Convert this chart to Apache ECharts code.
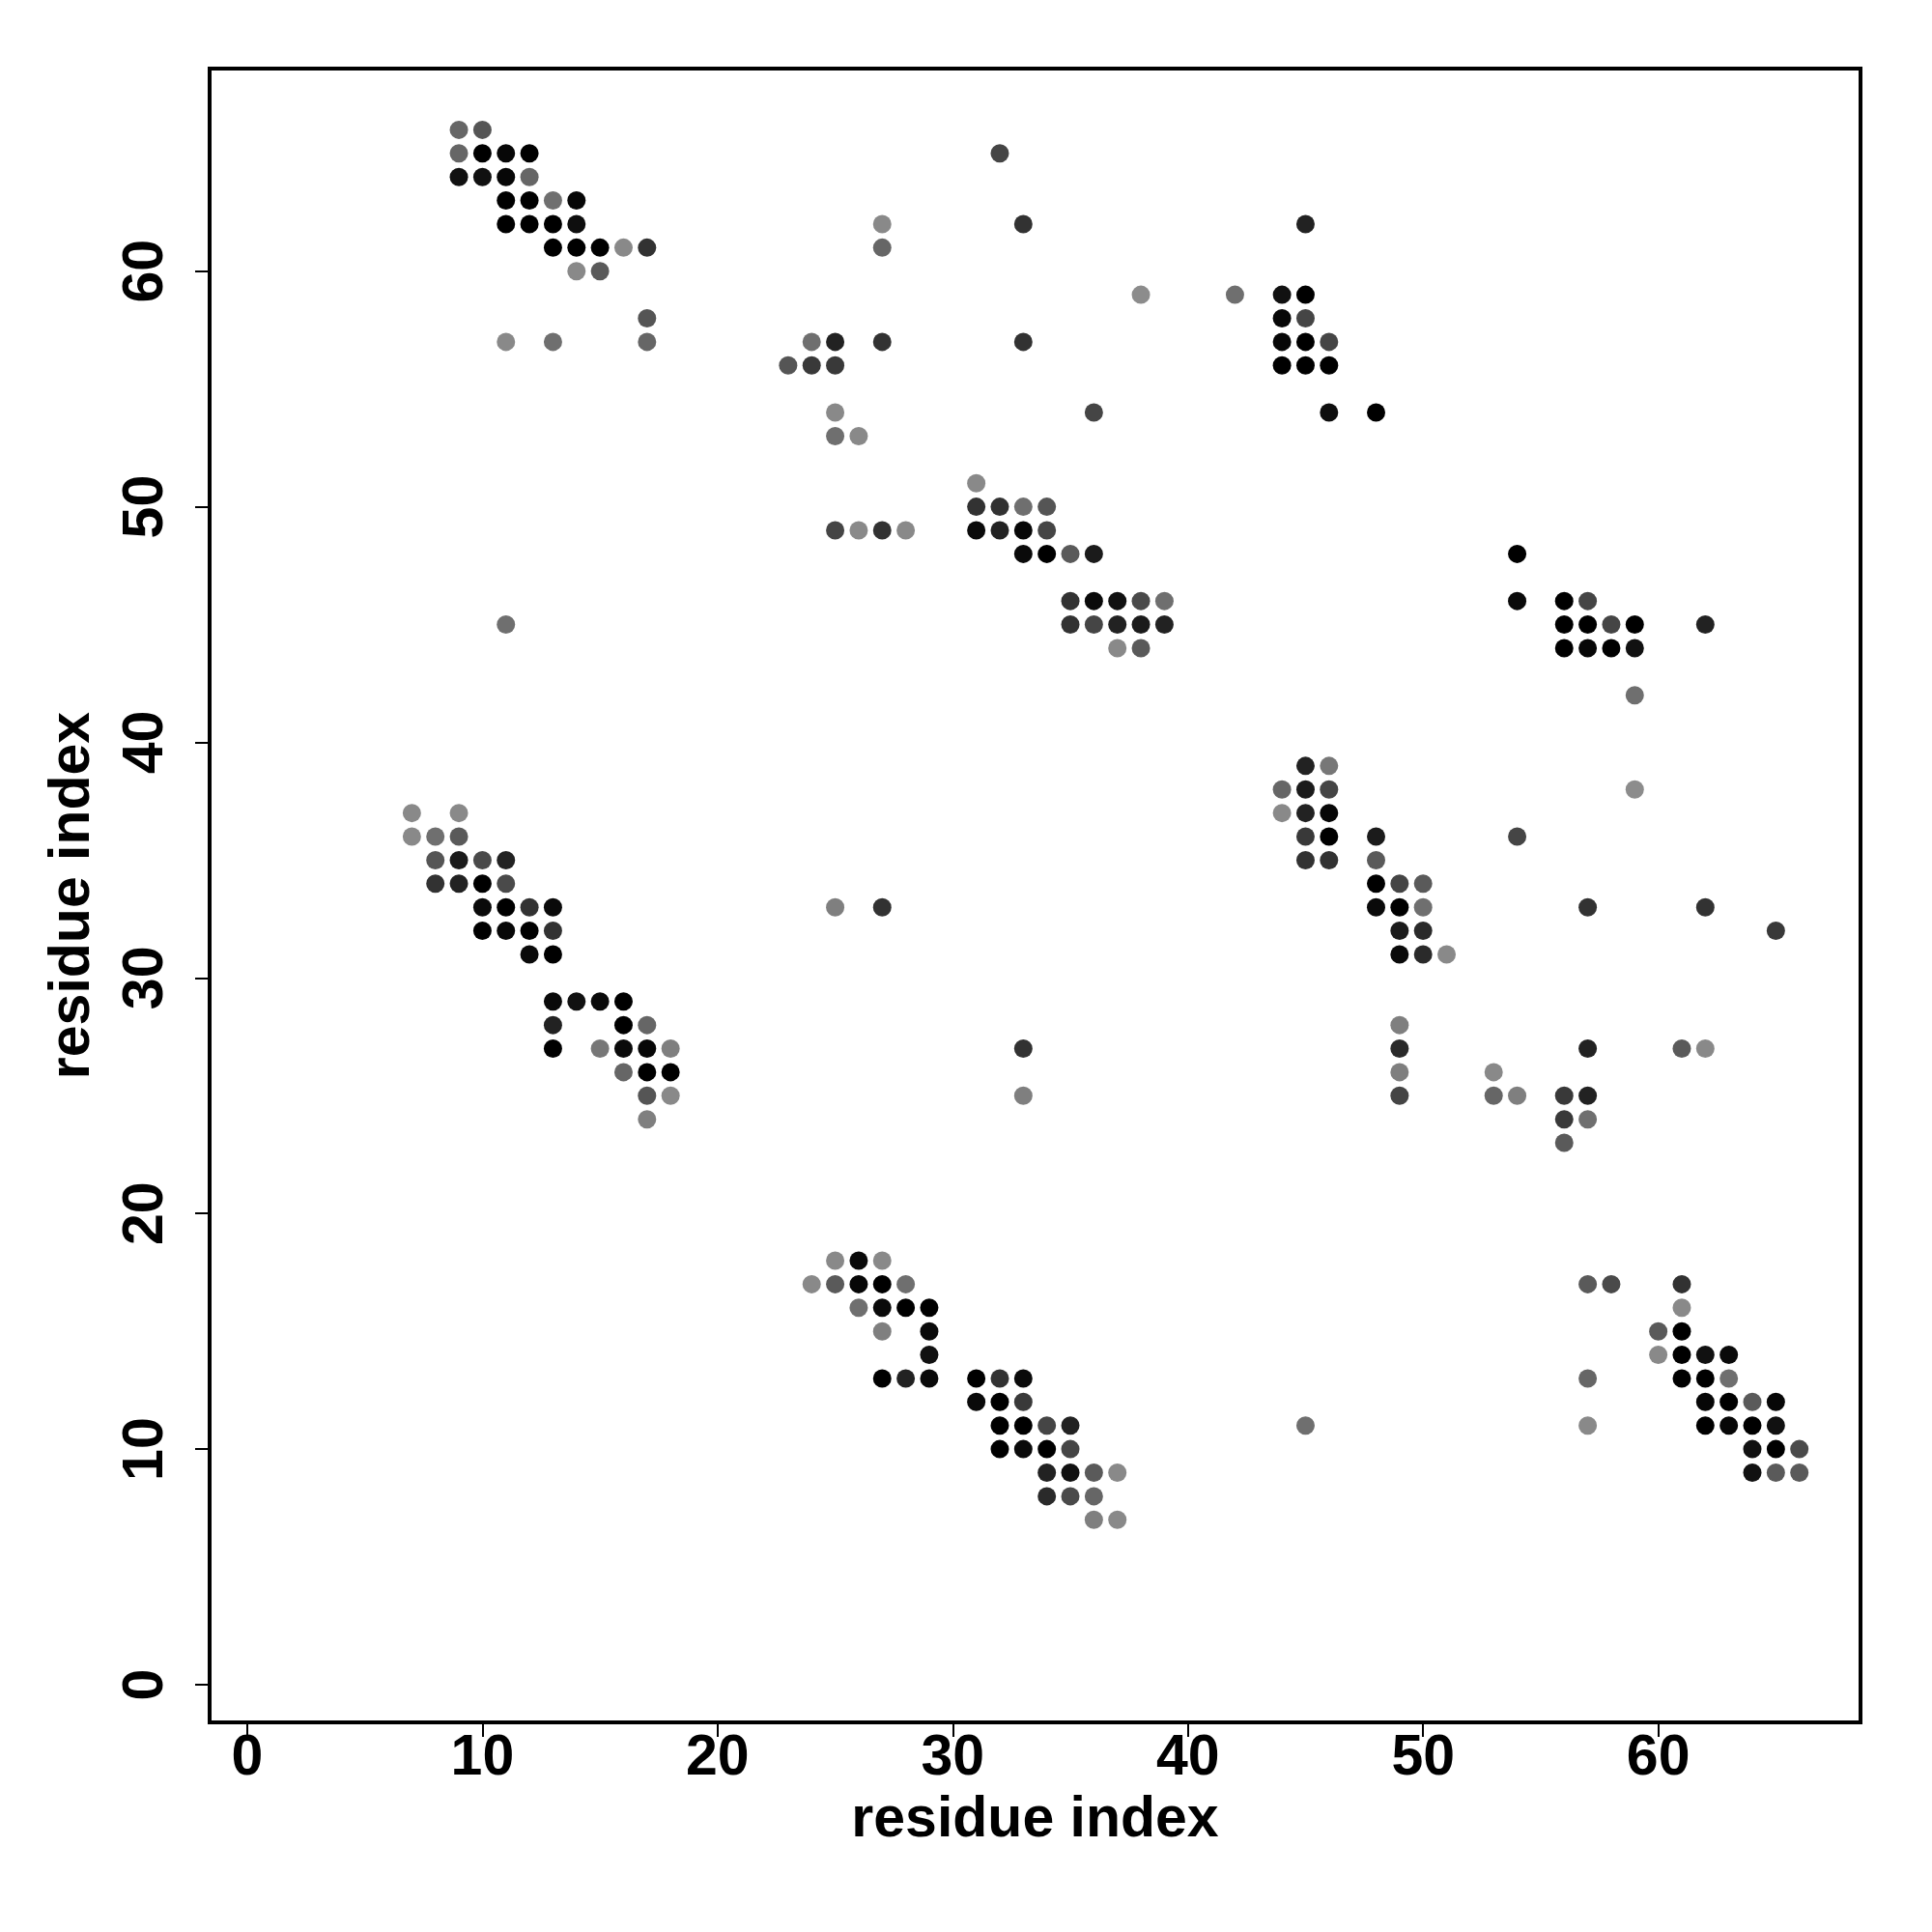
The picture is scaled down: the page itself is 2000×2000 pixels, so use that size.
<!DOCTYPE html>
<html>
<head>
<meta charset="utf-8">
<script src="https://cdn.jsdelivr.net/npm/echarts@6/dist/echarts.min.js"></script>
<style>
html,body{margin:0;padding:0;background:#fff;}
#chart{width:2000px;height:2000px;}
</style>
</head>
<body>
<div id="chart"></div>
<script>
// Contacts: [residue i, residue j, contact strength (0 = weakest/lightest, 1 = strongest/black)]
const blockTopLeft = [
  [9,66,0.27],[10,66,0.39],
  [9,65,0.27],[10,65,1],[11,65,0.95],[12,65,1],
  [9,64,0.88],[10,64,0.88],[11,64,0.95],[12,64,0.27],
  [11,63,1],[12,63,1],[13,63,0.21],[14,63,0.95],
  [11,62,1],[12,62,1],[13,62,1],[14,62,0.9],
  [13,61,1],[14,61,1],[15,61,1],[16,61,0.02],[17,61,0.64],
  [14,60,0.02],[15,60,0.36],
  [17,58,0.39],
  [11,57,0.02],[13,57,0.21],[17,57,0.27]
];
const blockTopMid = [
  [27,62,0.02],[27,61,0.27],
  [24,57,0.21],[25,57,0.76],[27,57,0.64],
  [23,56,0.39],[24,56,0.59],[25,56,0.59],
  [25,54,0.02],
  [25,53,0.21],[26,53,0.02],
  [25,49,0.51],[26,49,0.02],[27,49,0.64],[28,49,0.02],
  [32,65,0.51],[33,62,0.64],[33,57,0.64],[36,54,0.51],[38,59,0.0]
];
const blockTopRight = [
  [45,62,0.76],
  [42,59,0.21],[44,59,0.88],[45,59,1],
  [44,58,0.95],[45,58,0.51],
  [44,57,0.95],[45,57,1],[46,57,0.51],
  [44,56,1],[45,56,1],[46,56,1],
  [46,54,0.9],[48,54,1]
];
const blockCentre = [
  [31,51,0.02],
  [31,50,0.64],[32,50,0.64],[33,50,0.21],[34,50,0.39],
  [31,49,0.93],[32,49,0.76],[33,49,0.95],[34,49,0.51],
  [33,48,0.93],[34,48,1],[35,48,0.36],[36,48,0.81],
  [35,46,0.64],[36,46,0.93],[37,46,0.88],[38,46,0.47],[39,46,0.21],
  [35,45,0.64],[36,45,0.51],[37,45,0.76],[38,45,0.81],[39,45,0.76],
  [37,44,0.02],[38,44,0.36],
  [11,45,0.21]
];
const blockRightUpper = [
  [54,48,1],
  [54,46,0.93],[56,46,1],[57,46,0.51],
  [56,45,1],[57,45,1],[58,45,0.51],[59,45,1],[62,45,0.76],
  [56,44,1],[57,44,0.95],[58,44,1],[59,44,0.88],
  [59,42,0.21],[59,38,0.0],[54,36,0.51],
  [57,33,0.64],[62,33,0.64],[65,32,0.59]
];
const blockLeftMid = [
  [7,37,0.02],[9,37,0.02],
  [7,36,0.02],[8,36,0.21],[9,36,0.36],
  [8,35,0.39],[9,35,0.81],[10,35,0.47],[11,35,0.76],
  [8,34,0.64],[9,34,0.76],[10,34,1],[11,34,0.47],
  [10,33,0.93],[11,33,1],[12,33,0.64],[13,33,0.93],
  [10,32,1],[11,32,0.95],[12,32,1],[13,32,0.64],
  [12,31,0.93],[13,31,1],
  [13,29,0.93],[14,29,0.88],[15,29,0.93],[16,29,1],
  [13,28,0.76],[16,28,1],[17,28,0.27],
  [13,27,1],[15,27,0.15],[16,27,0.93],[17,27,0.95],[18,27,0.09],
  [16,26,0.27],[17,26,1],[18,26,1],
  [17,25,0.39],[18,25,0.02],
  [17,24,0.09],
  [25,33,0.09],[27,33,0.64],[33,27,0.64],[33,25,0.09]
];
const blockRightMid = [
  [45,39,0.76],[46,39,0.15],
  [44,38,0.27],[45,38,0.81],[46,38,0.51],
  [44,37,0.02],[45,37,0.76],[46,37,0.95],
  [45,36,0.59],[46,36,1],[48,36,0.81],
  [45,35,0.64],[46,35,0.64],[48,35,0.36],
  [48,34,1],[49,34,0.51],[50,34,0.36],
  [48,33,0.93],[49,33,1],[50,33,0.21],
  [49,32,0.81],[50,32,0.7],
  [49,31,0.93],[50,31,0.7],[51,31,0.02],
  [49,28,0.09],
  [49,27,0.7],[57,27,0.76],[61,27,0.36],[62,27,0.02],
  [49,26,0.09],[53,26,0.02],
  [49,25,0.51],[53,25,0.27],[54,25,0.09],[56,25,0.59],[57,25,0.76],
  [56,24,0.59],[57,24,0.21],
  [56,23,0.36]
];
const blockBottomMid = [
  [25,18,0.02],[26,18,0.93],[27,18,0.02],
  [24,17,0.02],[25,17,0.36],[26,17,0.95],[27,17,1],[28,17,0.21],
  [26,16,0.21],[27,16,0.93],[28,16,1],[29,16,1],
  [27,15,0.09],[29,15,0.93],
  [29,14,0.88],
  [27,13,1],[28,13,0.76],[29,13,0.93],[31,13,1],[32,13,0.64],[33,13,0.93],
  [31,12,0.93],[32,12,1],[33,12,0.59],
  [32,11,1],[33,11,1],[34,11,0.51],[35,11,0.76],
  [32,10,1],[33,10,0.93],[34,10,1],[35,10,0.51],
  [34,9,0.76],[35,9,0.88],[36,9,0.36],[37,9,0.02],
  [34,8,0.7],[35,8,0.47],[36,8,0.27],
  [36,7,0.09],[37,7,0.02],
  [45,11,0.21]
];
const blockBottomRight = [
  [57,17,0.36],[58,17,0.47],[61,17,0.64],
  [61,16,0.02],
  [60,15,0.36],[61,15,1],
  [60,14,0.02],[61,14,1],[62,14,0.88],[63,14,0.93],
  [57,13,0.27],[61,13,1],[62,13,1],[63,13,0.21],
  [62,12,0.95],[63,12,1],[64,12,0.36],[65,12,0.95],
  [57,11,0.02],[62,11,1],[63,11,0.95],[64,11,1],[65,11,0.88],
  [64,10,0.88],[65,10,1],[66,10,0.47],
  [64,9,0.88],[65,9,0.36],[66,9,0.36]
];
const tickValues = [0,10,20,30,40,50,60];
const axisTitle = 'residue index';

const contacts = [].concat(blockTopLeft, blockTopMid, blockTopRight, blockCentre,
  blockRightUpper, blockLeftMid, blockRightMid, blockBottomMid, blockBottomRight);

const FONT = '"Liberation Sans", Arial, Helvetica, sans-serif';
const chart = echarts.init(document.getElementById('chart'), null, {renderer: 'canvas'});

function axisCommon(isY) {
  return {
    type: 'value',
    min: -1.6,
    max: 68.6,
    name: axisTitle,
    nameLocation: 'middle',
    nameGap: isY ? 112 : 72,
    nameRotate: isY ? 90 : 0,
    nameTextStyle: {fontFamily: FONT, fontWeight: 'bold', fontSize: 59, color: '#000'},
    splitLine: {show: false},
    axisLine: {show: false, onZero: false},
    axisTick: {show: true, inside: false, length: 15, customValues: tickValues,
      lineStyle: {color: '#000', width: 2}},
    axisLabel: {show: true, customValues: tickValues, rotate: isY ? 90 : 0,
      margin: isY ? 36 : 8,
      fontFamily: FONT, fontWeight: 'bold', fontSize: 59, color: '#000'}
  };
}

chart.setOption({
  backgroundColor: '#ffffff',
  animation: false,
  grid: {left: 217, right: 74, top: 71, bottom: 217, show: true,
    borderColor: '#000', borderWidth: 4, backgroundColor: 'transparent'},
  xAxis: axisCommon(false),
  yAxis: axisCommon(true),
  visualMap: {show: false, type: 'continuous', min: 0, max: 1, dimension: 2,
    inRange: {color: ['#8c8c8c', '#000000']}},
  series: [{
    type: 'scatter',
    symbol: 'circle',
    symbolSize: 19,
    data: contacts,
    itemStyle: {opacity: 1}
  }]
});
</script>
</body>
</html>
